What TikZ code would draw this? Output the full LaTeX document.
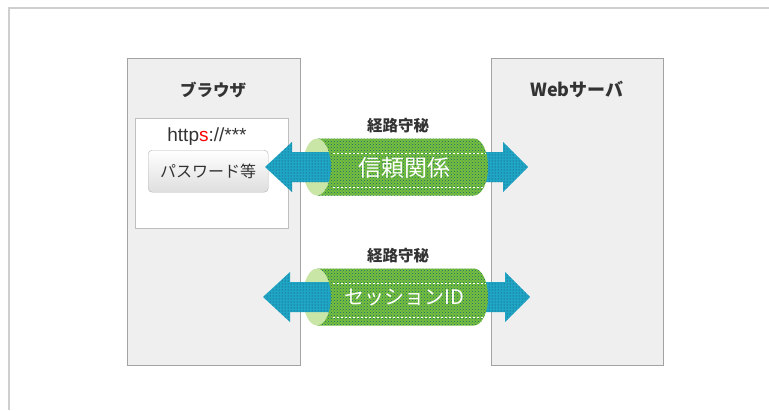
\documentclass[tikz,border=0pt]{standalone}
\usepackage{fontspec}
\setmainfont{Liberation Sans}
\newfontfamily\jp{Noto Sans CJK JP}
\usetikzlibrary{patterns}
\definecolor{boxbg}{HTML}{EFEFEF}
\definecolor{boxline}{HTML}{A3A3A3}
\definecolor{txt}{HTML}{333333}
\definecolor{pipegreen}{HTML}{78C03C}
\definecolor{pipelight}{HTML}{C9E6A6}
\definecolor{arrowblue}{HTML}{1FA6C6}
\definecolor{dotdark}{HTML}{163F50}
\definecolor{frameline}{HTML}{CFCFCF}
\tikzset{
  panel/.style={draw=boxline, line width=1.2pt, fill=boxbg},
  title/.style={font=\jp\bfseries\fontsize{16.5}{19}\selectfont, text=txt},
  pipelabel/.style={font=\jp\bfseries\fontsize{15.5}{18}\selectfont, text=txt},
  inpipe/.style={font=\jp, text=white},
  arrowfill/.style={fill=arrowblue, postaction={pattern=dots, pattern color=dotdark}},
  bodyfill/.style={fill=pipegreen, postaction={pattern=crosshatch dots, pattern color=arrowblue!60!black}},
  openfill/.style={fill=pipelight},
  dashline/.style={draw=white, line width=0.7pt, dash pattern=on 2pt off 2pt}
}
\newcommand{\pipe}[6]{% #1 name, #2 cy, #3 left tip, #4 right tip, #5 label, #6 inner text
  \fill[openfill] (317,#2) ellipse[x radius=14, y radius=28.5];
  \path[arrowfill] (#3,#2) -- ++(27,-25) -- ++(0,10) -- (#4-25,#2-15) -- ++(0,-10) -- (#4,#2)
     -- (#4-25,#2+25) -- ++(0,-10) -- (#3+27,#2+15) -- ++(0,10) -- cycle;
  \path[bodyfill] (317,#2-28.5) -- (474,#2-28.5) arc[start angle=-90, end angle=90, x radius=14, y radius=28.5]
     -- (317,#2+28.5) arc[start angle=90, end angle=-90, x radius=14, y radius=28.5] -- cycle;
  \draw[dashline] (333,#2-14) -- (486,#2-14);
  \draw[dashline] (333,#2+20) -- (486,#2+20);
  \node[inpipe] (#1in) at (404,#2+1) {#6};
  \node[pipelabel] (#1lab) at (398,#2-41) {#5};
}
\begin{document}
\begin{tikzpicture}[x=1pt,y=-1pt]
\useasboundingbox (0,0) rectangle (769,410);
\fill[white] (0,0) rectangle (769,410);
\draw[frameline, line width=1.2pt] (9,410) -- (9,8) -- (769,8);
\node[panel, minimum width=173pt, minimum height=307pt, anchor=north west, inner sep=0pt] (browser) at (127,58) {};
\node[panel, minimum width=172pt, minimum height=307pt, anchor=north west, inner sep=0pt] (server) at (491,58) {};
\node[title] (browsertitle) at (213,90) {ブラウザ};
\node[title] (servertitle) at (577,89) {\fontsize{18}{20}\selectfont Webサーバ};
\node[draw=boxline!70, fill=white, line width=0.8pt, minimum width=153pt, minimum height=110pt, anchor=north west, inner sep=0pt] (addr) at (135,118) {};
\node[font=\fontsize{19}{22}\selectfont, text=txt] (url) at (207,137) {http\textcolor{red}{s}://***};
\node[draw=boxline!80, rounded corners=4pt, top color=white, bottom color=boxbg!85!gray, minimum width=120pt, minimum height=42pt, anchor=north west, inner sep=0pt] (pwbtn) at (148,150) {};
\node[font=\jp\fontsize{16}{19}\selectfont, text=txt] (pw) at (pwbtn.center) {パスワード等};
\pipe{p1}{167}{265}{528}{経路守秘}{\fontsize{23}{26}\selectfont 信頼関係}
\pipe{p2}{297}{263}{530}{経路守秘}{\fontsize{20}{23}\selectfont セッションID}
\end{tikzpicture}
\end{document}
